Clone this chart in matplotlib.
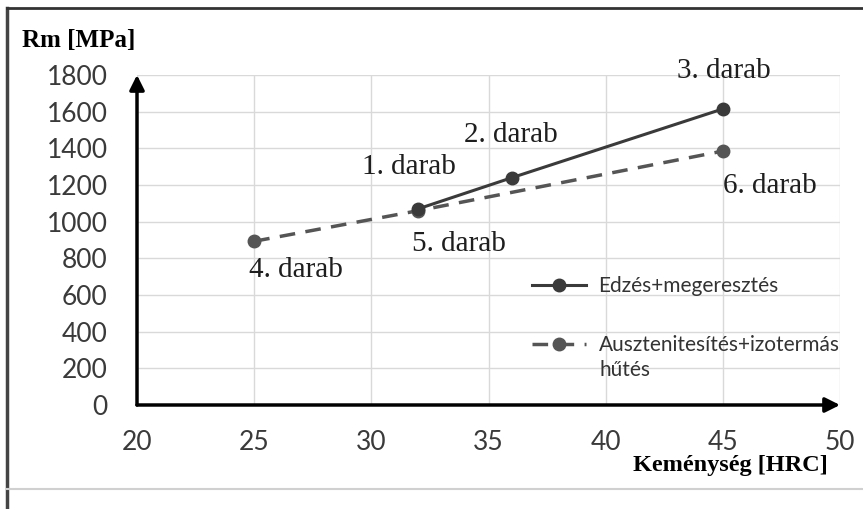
import matplotlib.pyplot as plt
from matplotlib.lines import Line2D

# adatok
hrc_edzes = [32, 36, 45]
rm_edzes = [1070, 1240, 1615]
labels_edzes = ['1. darab', '2. darab', '3. darab']

hrc_auszt = [25, 32, 45]
rm_auszt = [893, 1060, 1385]
labels_auszt = ['4. darab', '5. darab', '6. darab']

series_names = ['Edzés+megeresztés', 'Ausztenitesítés+izotermás hűtés']
x_ticks = [20, 25, 30, 35, 40, 45, 50]
y_ticks = list(range(0, 2000, 200))

# felirat eltolások pontokban
offs_edzes = [(-7, 30), (-1, 31), (1, 27)]
offs_auszt = [(30, -21), (29, -24), (34, -25)]

fig = plt.figure(figsize=(8.63, 5.09), dpi=100)
ax = fig.add_axes([137 / 863, 1 - 405 / 509, 703 / 863, 330 / 509])

ax.set_xlim(20, 50)
ax.set_ylim(0, 1800)
ax.set_xticks(x_ticks)
ax.set_yticks(y_ticks)
ax.grid(True, color='#d9d9d9', lw=1)
ax.set_axisbelow(True)
for s in ax.spines.values():
    s.set_visible(False)
ax.tick_params(length=0, labelsize=19, labelcolor='#3a3a3a')
ax.tick_params(axis='y', pad=21)
ax.tick_params(axis='x', pad=18)
for t in ax.get_xticklabels() + ax.get_yticklabels():
    t.set_family('Lato')

# tengelyek nyilakkal
ax.annotate('', xy=(20, 1800), xytext=(20, 0),
            arrowprops=dict(arrowstyle='-|>', color='black', lw=2.5, mutation_scale=22,
                            shrinkA=0, shrinkB=0), annotation_clip=False)
ax.annotate('', xy=(50, 0), xytext=(20, 0),
            arrowprops=dict(arrowstyle='-|>', color='black', lw=2.5, mutation_scale=22,
                            shrinkA=0, shrinkB=0), annotation_clip=False)

ax.plot(hrc_edzes, rm_edzes, color='#3a3a3a', lw=2.2, marker='o', ms=9, zorder=4)
ax.plot(hrc_auszt, rm_auszt, color='#555555', lw=2.5, ls=(0, (4.5, 3)), marker='o', ms=9, zorder=3)

for x, y, t, o in zip(hrc_edzes, rm_edzes, labels_edzes, offs_edzes):
    ax.annotate(t, (x, y), xytext=o, textcoords='offset points', ha='center', va='center',
                fontsize=21, family='Liberation Serif', color='#1e1e1e')
for x, y, t, o in zip(hrc_auszt, rm_auszt, labels_auszt, offs_auszt):
    ax.annotate(t, (x, y), xytext=o, textcoords='offset points', ha='center', va='center',
                fontsize=21, family='Liberation Serif', color='#1e1e1e')

# jelmagyarázat
first_line, second_line = series_names[1].rsplit(' ', 1)
handles = [Line2D([], [], color='#3a3a3a', lw=2.2, marker='o', ms=9),
           Line2D([], [], color='#555555', lw=2.5, ls=(0, (4.5, 3)), marker='o', ms=9)]
leg = ax.legend(handles, [series_names[0], first_line], loc='upper left',
                bbox_to_anchor=(0.535, 0.448), frameon=False, handlelength=2.6,
                labelspacing=1.9, handletextpad=0.6, prop={'family': 'Lato', 'size': 15})
for t in leg.get_texts():
    t.set_color('#333333')
fig.text(599 / 863, 1 - 370 / 509, second_line, ha='left', va='center',
         fontsize=15, family='Lato', color='#333333')

fig.text(22 / 863, 1 - 40 / 509, 'Rm [MPa]', ha='left', va='center', fontsize=18,
         fontweight='bold', family='Liberation Serif')
fig.text(828 / 863, 1 - 466 / 509, 'Keménység [HRC]', ha='right', va='center', fontsize=17.5,
         fontweight='bold', family='Liberation Serif')

# keret
fig.add_artist(Line2D([7 / 863, 7 / 863], [0, 1 - 8 / 509], transform=fig.transFigure,
                      color='#444444', lw=2.5))
fig.add_artist(Line2D([7 / 863, 1], [1 - 8 / 509, 1 - 8 / 509], transform=fig.transFigure,
                      color='#333333', lw=2))
fig.add_artist(Line2D([7 / 863, 1], [1 - 489 / 509, 1 - 489 / 509], transform=fig.transFigure,
                      color='#d0d0d0', lw=1.5))

fig.savefig('out.png', dpi=100)
